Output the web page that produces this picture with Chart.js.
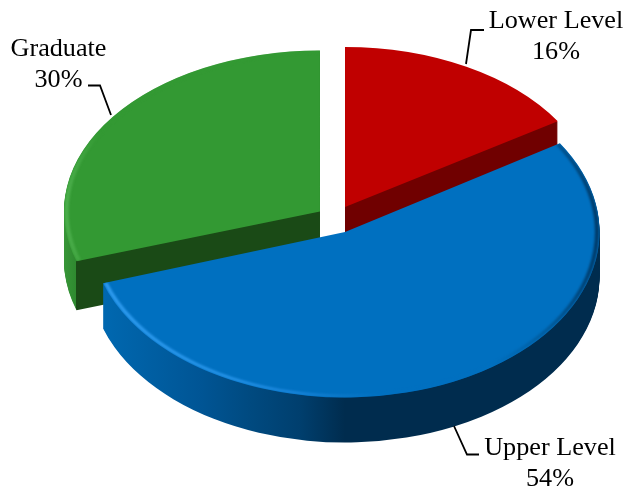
<!DOCTYPE html>
<html><head><meta charset="utf-8">
<style>html,body{margin:0;padding:0;background:#fff;overflow:hidden}canvas{display:block}</style>
<script src="https://cdn.jsdelivr.net/npm/chart.js@4"></script>
</head><body><canvas id="c" width="626" height="491" style="width:626px;height:491px"></canvas>
<script>
const categories = ['Lower Level', 'Upper Level', 'Graduate'];
const shares = [16, 54, 30];
const topColors = ['#C00000', '#0070C0', '#339933'];

// Styling of the tilted pie (not data)
const explode = [20.6, 23.3, 18.7];
const radiusX = [252, 254.5, 256];
const radiusY = [160, 165.5, 161];
const pieCentre = { x: 335.1, y: 218.5 };
const depth = [45, 45, 49];
const drawOrder = [2, 0, 1];
const wallStops = [
  [[0, '#700000'], [1, '#700000']],
  [[103, '#0068B0'], [200, '#005595'], [250, '#004A80'], [300, '#003F6E'], [345, '#002C4E'], [600, '#002C4E']],
  [[60, '#3A9A3A'], [75.5, '#2F8A30'], [76, '#1A4A16'], [330, '#1A4A16']]
];
const rimStops = [
  null,
  [[103, '#2E9BEE'], [230, '#2795EA'], [290, '#1A86DC'], [340, '#0B78C8'], [380, '#0070C0'], [490, '#0070C0'], [545, '#005C9E'], [600, '#003A68']],
  [[64, '#4DB04D'], [76, '#45A845'], [100, '#339933'], [330, '#339933']]
];
const callouts = [
  { lines: [[466, 64], [471, 30], [484, 30]], x: 556, y: [28, 59] },
  { lines: [[454, 426], [467, 454.5], [479, 454.5]], x: 550, y: [455, 486] },
  { lines: [[111, 115], [100, 85.5], [88, 85.5]], x: 58.5, y: [56, 87] }
];

const plainOptions = c => ({
  backgroundColor: c, borderColor: 'rgba(0,0,0,0)', borderWidth: 0, offset: 0, spacing: 0,
  borderRadius: 0, borderAlign: 'center', circular: true, borderDash: [], borderDashOffset: 0,
  borderJoinStyle: 'round', selfJoin: false
});

const tiltedPie = {
  id: 'tiltedPie',
  beforeDatasetsDraw(chart) {
    const ctx = chart.ctx;
    const arcs = chart.getDatasetMeta(0).data;
    const frame = i => {
      const a = arcs[i];
      const mid = (a.startAngle + a.endAngle) / 2;
      const sx = radiusX[i] / a.outerRadius, sy = radiusY[i] / a.outerRadius;
      return {
        a, sx, sy,
        cx: pieCentre.x + explode[i] * Math.cos(mid),
        cy: pieCentre.y + explode[i] * Math.sin(mid) * 0.64
      };
    };
    const place = (f, dy) => {
      ctx.translate(f.cx, f.cy + dy);
      ctx.scale(f.sx, f.sy);
      ctx.translate(-f.a.x, -f.a.y);
    };
    const gradient = (f, stops) => {
      const lo = stops[0][0], hi = stops[stops.length - 1][0];
      const toLocal = X => f.a.x + (X - f.cx) / f.sx;
      const g = ctx.createLinearGradient(toLocal(lo), 0, toLocal(hi), 0);
      stops.forEach(s => g.addColorStop((s[0] - lo) / (hi - lo), s[1]));
      return g;
    };
    drawOrder.forEach(i => {
      const f = frame(i);
      const a = f.a;
      const saved = a.options;
      // extruded wall
      for (let d = depth[i]; d >= 1; d--) {
        ctx.save();
        place(f, d);
        a.options = plainOptions(gradient(f, wallStops[i]));
        a.draw(ctx);
        ctx.restore();
      }
      // top face
      ctx.save();
      place(f, 0);
      a.options = plainOptions(topColors[i]);
      a.draw(ctx);
      // bevel highlight along the outer edge, kept inside the face
      if (rimStops[i]) {
        ctx.beginPath();
        ctx.moveTo(a.x, a.y);
        ctx.arc(a.x, a.y, a.outerRadius, a.startAngle, a.endAngle);
        ctx.closePath();
        ctx.clip();
        ctx.filter = 'blur(1.2px)';
        ctx.strokeStyle = gradient(f, rimStops[i]);
        ctx.lineWidth = 4;
        ctx.beginPath();
        ctx.arc(a.x, a.y, a.outerRadius - 2.5, a.startAngle, a.endAngle);
        ctx.stroke();
        ctx.filter = 'none';
      }
      ctx.restore();
      a.options = saved;
    });
    return false;
  },
  afterDraw(chart) {
    const ctx = chart.ctx;
    ctx.save();
    ctx.strokeStyle = '#000';
    ctx.lineWidth = 1.8;
    ctx.fillStyle = '#000';
    ctx.font = '26.2px "Liberation Serif"';
    ctx.textAlign = 'center';
    ctx.textBaseline = 'alphabetic';
    categories.forEach((name, i) => {
      const c = callouts[i];
      ctx.beginPath();
      c.lines.forEach((p, k) => k ? ctx.lineTo(p[0], p[1]) : ctx.moveTo(p[0], p[1]));
      ctx.stroke();
      ctx.fillText(name, c.x, c.y[0]);
      ctx.fillText(shares[i] + '%', c.x, c.y[1]);
    });
    ctx.restore();
  }
};

new Chart(document.getElementById('c'), {
  type: 'pie',
  data: { labels: categories, datasets: [{ data: shares, backgroundColor: topColors, borderWidth: 0 }] },
  options: {
    responsive: false,
    devicePixelRatio: 1,
    animation: false,
    rotation: 0,
    layout: { padding: 0 },
    plugins: { legend: { display: false }, tooltip: { enabled: false } }
  },
  plugins: [tiltedPie]
});
</script></body></html>
